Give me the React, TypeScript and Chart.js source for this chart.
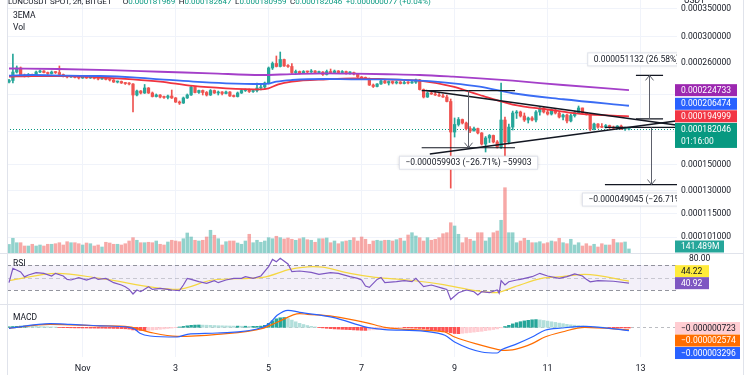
import React, { useEffect, useRef } from "react";
import { Chart, registerables } from "chart.js";

Chart.register(...registerables);

/* ===================== DATA (prices in 1e-6 USDT, volume in millions) ===================== */
const symbolText = "LUNCUSDT SPOT, 2h, BITGET";
const countdown = "01:16:00";
// x axis = 2h candle index; index 19 = Nov 1 00:00
const dayTicks = [19, 43, 67, 91, 115, 139, 163];
const dayLabels = ["Nov", "3", "5", "7", "9", "11", "13"];
const priceTicks = [101, 115, 130, 150, 180, 220, 260, 300, 350];
const unlabeledPriceTicks = [180, 220];
const rsiTicks = [80];
const rsiLevels = [70, 50, 30];

const firstOpen = 234.9;
const closes = [
  236.9, 248.0, 253.5, 244.0, 242.7, 244.7, 243.4, 248.0, 249.4, 247.3,
  246.0, 248.0, 247.3, 244.7, 242.1, 241.4, 242.7, 240.8, 240.1, 241.4,
  240.1, 242.1, 239.5, 238.8, 240.8, 238.2, 237.5, 234.9, 235.6, 233.7,
  233.0, 232.4, 218.9, 223.7, 221.3, 227.4, 221.3, 217.1, 218.9, 216.5,
  216.0, 217.7, 215.4, 210.7, 209.6, 215.4, 218.9, 228.6, 221.9, 224.3,
  221.9, 218.9, 224.3, 221.3, 222.5, 220.7, 222.5, 217.7, 217.1, 221.3,
  224.3, 225.5, 223.1, 224.3, 227.4, 228.6, 233.7, 253.5, 259.8, 255.6,
  265.5, 256.3, 255.6, 247.3, 248.7, 246.7, 248.7, 248.0, 249.4, 247.3,
  248.0, 244.7, 248.7, 247.3, 249.4, 247.3, 248.7, 246.7, 247.3, 245.3,
  241.4, 240.1, 239.5, 231.1, 229.3, 232.4, 236.2, 233.7, 235.6, 233.7,
  234.9, 233.0, 234.3, 233.7, 234.6, 237.5, 225.5, 216.5, 221.3, 220.1,
  218.9, 217.7, 216.5, 211.3, 179.0, 186.5, 191.6, 188.0, 182.4, 180.0,
  182.4, 178.1, 167.7, 173.3, 175.7, 169.6, 165.0, 191.1, 169.6, 183.9,
  198.5, 199.6, 195.3, 191.1, 193.2, 191.1, 199.6, 204.0, 199.6, 197.4,
  201.7, 198.5, 194.2, 196.3, 190.1, 195.8, 199.0, 204.0, 198.5, 197.4,
  181.9, 187.0, 183.9, 183.6, 185.4, 183.4, 182.9, 184.9, 181.9, 181.969,
  182.046,
];
const highs = [
  238.2, 273.5, 256.3, 254.9, 245.3, 246.0, 245.3, 249.4, 250.7, 250.0,
  248.0, 249.4, 248.7, 256.3, 245.3, 242.7, 243.4, 243.4, 241.4, 242.7,
  242.1, 242.7, 242.7, 240.1, 241.4, 241.4, 238.8, 238.2, 236.2, 236.2,
  234.3, 234.3, 233.0, 224.9, 224.3, 231.8, 228.0, 222.5, 220.1, 219.5,
  217.7, 218.9, 224.9, 216.0, 211.9, 216.5, 220.1, 229.9, 229.3, 224.9,
  224.9, 223.1, 225.5, 224.9, 223.7, 223.1, 223.7, 223.1, 218.9, 222.5,
  225.5, 226.2, 226.2, 225.5, 233.7, 231.1, 234.9, 254.9, 261.9, 270.6,
  276.5, 266.2, 258.4, 259.8, 250.7, 249.4, 250.0, 249.4, 251.4, 250.0,
  249.4, 248.7, 250.7, 252.1, 250.7, 250.0, 250.0, 249.4, 248.7, 248.0,
  246.0, 242.1, 241.4, 240.1, 232.4, 233.0, 237.5, 237.5, 236.2, 236.2,
  236.2, 235.6, 236.2, 235.6, 235.8, 238.8, 238.2, 226.2, 222.5, 222.5,
  222.5, 221.3, 220.1, 218.9, 214.2, 193.2, 193.7, 192.1, 189.0, 184.4,
  183.9, 182.9, 178.5, 174.7, 176.6, 176.1, 170.9, 233.7, 194.2, 187.0,
  200.6, 201.2, 200.6, 198.5, 194.2, 194.7, 201.2, 205.1, 204.6, 201.7,
  202.9, 202.3, 199.6, 197.4, 197.4, 197.4, 200.6, 206.2, 204.0, 199.0,
  197.4, 188.0, 187.5, 187.5, 186.5, 185.9, 184.9, 185.4, 185.9, 183.9,
  182.647,
];
const lows = [
  233.7, 233.7, 246.7, 242.7, 241.4, 241.4, 242.1, 242.7, 247.3, 246.7,
  244.7, 245.3, 246.0, 244.0, 241.4, 240.1, 240.8, 240.1, 238.8, 239.5,
  239.5, 239.5, 238.8, 237.5, 238.2, 237.5, 236.2, 234.3, 233.7, 233.0,
  231.8, 231.1, 199.6, 217.7, 220.1, 220.7, 220.7, 216.5, 216.5, 215.4,
  214.8, 214.2, 214.8, 210.2, 207.9, 209.0, 214.8, 218.3, 221.3, 220.7,
  218.9, 217.7, 218.3, 220.7, 218.9, 218.9, 220.1, 217.1, 216.5, 216.5,
  220.7, 223.1, 221.9, 221.9, 222.5, 224.9, 226.8, 232.4, 251.4, 254.9,
  254.9, 255.6, 254.2, 246.0, 246.0, 245.3, 246.0, 246.7, 247.3, 246.0,
  246.0, 243.4, 244.0, 246.0, 246.7, 246.0, 246.7, 245.3, 245.3, 244.0,
  240.8, 238.8, 238.2, 230.5, 228.0, 228.6, 231.8, 233.0, 231.1, 232.4,
  232.4, 232.4, 232.4, 232.4, 233.0, 233.0, 224.9, 215.4, 216.0, 219.5,
  218.3, 217.1, 216.0, 210.7, 132.0, 174.2, 184.9, 187.0, 181.0, 178.5,
  180.0, 177.1, 166.8, 160.6, 169.1, 168.7, 164.1, 163.7, 156.3, 167.7,
  181.0, 192.7, 194.2, 189.6, 188.0, 190.1, 189.0, 196.3, 198.5, 196.3,
  196.3, 197.4, 193.2, 191.1, 188.0, 189.0, 194.2, 197.9, 197.4, 196.3,
  180.5, 181.0, 182.9, 183.2, 182.9, 182.4, 181.5, 181.9, 181.5, 180.5,
  180.959,
];
const volumes = [
  300, 515, 360, 360, 245, 245, 305, 245, 280, 245,
  305, 305, 325, 360, 280, 395, 360, 360, 325, 280,
  350, 325, 245, 280, 210, 375, 350, 305, 305, 280,
  325, 420, 535, 445, 360, 360, 375, 360, 420, 305,
  280, 385, 445, 420, 395, 500, 700, 560, 445, 420,
  445, 560, 795, 620, 500, 280, 395, 420, 420, 350,
  305, 420, 655, 360, 445, 375, 420, 535, 500, 585,
  535, 490, 525, 480, 445, 500, 535, 465, 445, 375,
  500, 500, 525, 360, 420, 325, 395, 420, 445, 535,
  420, 560, 480, 305, 420, 445, 420, 445, 445, 420,
  465, 515, 420, 630, 710, 595, 535, 420, 535, 445,
  480, 535, 675, 710, 1060, 945, 655, 360, 535, 480,
  420, 710, 710, 420, 535, 710, 770, 1145, 2285, 710,
  710, 360, 420, 515, 445, 360, 360, 395, 325, 360,
  420, 395, 515, 360, 325, 480, 280, 360, 245, 325,
  245, 305, 210, 325, 280, 280, 480, 360, 360, 385,
  141.489,
];
// 3 EMAs: [candle index, value]
const emaLong = [
  [0, 252.8], [12.6, 252.1], [26, 250.7], [39, 248.4], [52, 246.3], [65, 244.0], [73, 245.3],
  [82, 246.3], [89, 245.8], [97.5, 245.0], [106, 244.0], [114.6, 241.8], [121.5, 239.7],
  [130, 236.6], [143, 231.1], [160, 224.733],
];
const emaMid = [
  [0, 243.1], [6, 244.0], [15, 243.1], [23.5, 242.7], [32, 241.0], [39, 238.4], [47.5, 235.4],
  [56, 233.3], [65, 232.4], [67.4, 233.3], [69, 235.4], [73, 237.5], [82, 238.8], [89, 238.4],
  [97.5, 238.4], [106, 236.6], [114.6, 233.3], [121.5, 229.0], [130, 221.0], [143, 213.9],
  [160, 206.474],
];
const emaShort = [
  [0, 241.8], [6, 242.7], [15, 242.7], [23.5, 241.0], [32, 238.4], [39, 235.4], [47.5, 229.9],
  [56, 227.0], [65, 225.7], [67, 227.0], [69.5, 232.0], [73, 235.4], [82, 238.4], [89, 239.7],
  [97.5, 238.4], [106, 236.6], [114.6, 229.0], [119, 222.5], [121.5, 218.9], [123.5, 216.0],
  [130, 207.8], [139, 202.3], [147.5, 197.5], [160, 194.999],
];
const rsiLine = [
  [0, 41.7], [1, 64.7], [3, 59], [4, 51], [5, 54], [7, 57.7], [9, 56.7], [11, 52.4], [12, 56.7],
  [14, 52.4], [15, 47], [16, 46], [18, 49.7], [20, 46], [22, 50.3], [23, 47], [25, 48.6],
  [27, 41.7], [29, 38], [30, 35.3], [31, 31], [32, 23.6], [33, 30], [34, 27.3], [36, 35.3],
  [37, 31], [39, 32.7], [41, 31], [42, 30], [44, 29], [45, 38], [46, 48.6], [47, 47], [49, 43.3],
  [51, 40.7], [53, 44.9], [54, 41.7], [56, 46], [58, 48.6], [60, 48.6], [61, 51.3], [63, 48.6],
  [65, 52.4], [67, 67.3], [68, 79], [69, 75.3], [70, 80.7], [72, 71.6], [73, 59.3], [75, 60.4],
  [78, 58.3], [80, 55], [83, 57.7], [85, 56.7], [88, 51.3], [90, 48.6], [91, 46], [92, 36.4],
  [93, 34.3], [95, 47], [96, 50], [97, 41.7], [100, 43.3], [102, 45], [104, 43.3], [105, 48.7],
  [107, 35.3], [109, 38], [112, 32.7], [113, 31], [114, 15], [116, 25.7], [118, 30], [120, 27.3],
  [121, 22], [122, 27.3], [124, 25.7], [126, 30], [126.5, 24.7], [127, 45], [128, 38], [129, 43.3],
  [131, 46], [132, 47], [135, 51.3], [137, 56.7], [139, 52.4], [142, 48.6], [144, 51.3],
  [146, 55.6], [148, 52.4], [149, 47], [150, 43], [152, 45], [156, 44], [160, 40.92],
];
const rsiMa = [
  [0, 45], [12.4, 56.7], [23.5, 48.6], [43.4, 31], [52.6, 46], [65.5, 50.3], [72.5, 63],
  [78.5, 67.3], [81, 66.5], [88, 56.7], [94.5, 50.3], [103, 46], [111.7, 39], [120.3, 29],
  [125.4, 25.7], [130.6, 35.3], [137.5, 48.6], [142.7, 51.3], [148.6, 55], [160, 44.22],
];
// MACD in 1e-6 USDT
const macdLine = [
  [0, -1], [10.6, 3.7], [15.7, 3], [23.5, 1.5], [31, 0], [32.5, -2], [33.8, -6], [36.4, -8.7],
  [43.4, -9.7], [46, -7], [53.7, -5.7], [65.5, 0], [67.4, 4.5], [69.2, 12], [72, 17], [75, 15],
  [83.6, 10], [92.4, 0], [94.5, -1.3], [97, -2.3], [107.4, -4], [112.5, -8], [115, -14.7],
  [122, -24.7], [126, -25.7], [127.2, -22.3], [130.6, -17.3], [135, -9.7], [138.3, -3],
  [142.7, -0.7], [148.6, 1], [160, -3.296],
];
const signalLine = [
  [0, -1], [10.6, 3], [23.5, 1.5], [31, 0.5], [36.4, -5], [43.4, -9], [53.7, -7], [65.5, -1],
  [69.2, 5], [75, 13.7], [77, 13], [83.6, 11], [92.4, 4.5], [97, 0], [107.4, -3], [112.5, -4.7],
  [115, -9.7], [122, -18], [126, -22], [127.2, -23], [130.6, -22], [135, -16.3], [138.3, -9.7],
  [142.7, -4.7], [148.6, 0], [160, -2.574],
];
const macdHist = [
  0.5, 0.8, 1.0, 1.2, 1.3, 1.2, 1.1, 1.0, 0.8, 0.7,
  0.5, 0.4, 0.3, -0.2, -0.3, -0.4, -0.5, -0.6, -0.6, -0.7,
  -0.7, -0.8, -0.8, -0.9, -0.9, -1.0, -1.0, -1.1, -1.2, -1.3,
  -1.5, -1.8, -2.6, -3.0, -3.2, -3.3, -3.1, -2.8, -2.4, -2.0,
  -1.6, -1.2, -0.8, -0.3, 0.3, 0.9, 1.5, 2.0, 2.2, 2.3,
  2.2, 2.1, 2.0, 1.8, 1.6, 1.5, 1.4, 1.3, 1.2, 1.2,
  1.1, 1.1, 1.0, 1.0, 1.0, 1.2, 2.0, 4.0, 6.5, 8.5,
  9.5, 9.8, 8.8, 7.2, 5.5, 4.0, 2.8, 1.8, 1.0, 0.4,
  -0.2, -0.6, -1.0, -1.3, -1.6, -1.8, -2.0, -2.2, -2.4, -2.6,
  -2.8, -3.0, -3.1, -2.8, -2.5, -2.2, -1.8, -1.4, -1.0, -0.7,
  -0.5, -0.4, -0.5, -0.6, -0.8, -1.0, -1.2, -1.6, -2.0, -2.6,
  -3.2, -3.8, -4.3, -4.8, -5.5, -6.2, -6.4, -6.0, -5.6, -5.2,
  -4.8, -4.4, -4.0, -3.4, -2.8, -2.2, -1.6, -0.5, 0.8, 2.0,
  3.4, 4.6, 5.6, 6.4, 7.0, 7.5, 7.7, 7.4, 6.8, 6.2,
  5.5, 4.9, 4.2, 3.6, 3.0, 2.5, 2.1, 1.7, 1.4, 1.1,
  0.8, 0.6, 0.4, 0.2, 0.0, -0.2, -0.4, -0.5, -0.6, -0.7,
  -0.723,
];
// drawings (candle index, price)
const triangleUpper = [[107.6, 224.27], [172.1, 185.9]];
const triangleLower = [[108.6, 158.9], [172.1, 190.1]];
const measures = [
  { x1: 106.5, x2: 130.6, xv: 118.5, from: 224.27, to: 164.367 },
  { x1: 161.8, x2: 168.8, xv: 165.3, from: 192.37, to: 243.502 },
  { x1: 153.8, x2: 173.0, xv: 165.8, from: 183.62, to: 134.575 },
];

/* ===================== STYLE ===================== */
const FONT = "Roboto, 'Noto Sans', sans-serif";
const TEXT = "#131722";
const GRID = "#f0f3fa";
const SEP = "#e0e3eb";
const UP = "#26a69a";
const DOWN = "#ef5350";
const GREEN = "#089981";
const PURPLE = "#9c27b0";
const BLUE = "#2962ff";
const RED = "#f23645";
const ORANGE = "#ff6d00";
const RSI_COL = "#7e57c2";
const RSI_MA_COL = "#f5d742";

const PLOT_LEFT = 7;
const AXIS_W = 73;
const X_MIN = -0.52;
const X_MAX = 172.4;
const PRICE_MIN = 92.77;
const PRICE_MAX = 366.8;
const VOL_MAX = 8855;
const RSI_MIN = 7.6;
const RSI_MAX = 89.2;
const MACD_MIN = -29.7;
const MACD_MAX = 23.3;
const TAG_X = 675;

const font = (size: number, weight = "normal") => `${weight} ${size}px ${FONT}`;
const fmtPrice = (v: number) => (v * 1e-6).toFixed(9);
const pts = (arr: number[][]) => arr.map(([x, y]) => ({ x, y }));
const last = (arr: any[]) => arr[arr.length - 1];

function noPad(s: any) {
  s.paddingTop = 0;
  s.paddingBottom = 0;
  s.paddingLeft = 0;
  s.paddingRight = 0;
}

function placeTags(tags: any[], gap: number, anchor: any) {
  const sorted = [...tags].sort((a, b) => a.y - b.y);
  const k = sorted.indexOf(anchor);
  for (let i = k - 1; i >= 0; i--) sorted[i].y = Math.min(sorted[i].y, sorted[i + 1].y - gap);
  for (let i = k + 1; i < sorted.length; i++) sorted[i].y = Math.max(sorted[i].y, sorted[i - 1].y + gap);
}

function drawTag(ctx: any, y: number, w: number, bg: string, fg: string, text: string, sub?: string) {
  const h = 12;
  ctx.fillStyle = bg;
  ctx.fillRect(TAG_X, y - h / 2, w, sub ? h + 13 : h);
  ctx.fillStyle = fg;
  ctx.font = font(8.5);
  ctx.textAlign = "left";
  ctx.textBaseline = "middle";
  ctx.fillText(text, TAG_X + 6, y + 0.5);
  if (sub) ctx.fillText(sub, TAG_X + 6, y + 13);
}

function xAxis(showLabels: boolean): any {
  return {
    type: "linear",
    min: X_MIN,
    max: X_MAX,
    bounds: "data",
    offset: false,
    grid: { color: GRID, offset: false, drawTicks: false },
    border: { display: false },
    ticks: showLabels
      ? {
          display: true,
          color: TEXT,
          font: { family: FONT, size: 9 },
          padding: 6,
          maxRotation: 0,
          autoSkip: false,
          callback: (v: number) => {
            const k = dayTicks.indexOf(v);
            return k >= 0 ? dayLabels[k] : "";
          },
        }
      : { display: false },
    afterBuildTicks: (s: any) => {
      s.ticks = dayTicks.map((v) => ({ value: v }));
    },
    afterFit: (s: any) => {
      s.height = showLabels ? 18 : 0;
      noPad(s);
    },
  };
}

const framePlugin = (sepTop: boolean) => ({
  id: "frame",
  afterDraw(chart: any) {
    const { ctx, height } = chart;
    ctx.save();
    ctx.strokeStyle = SEP;
    ctx.lineWidth = 1;
    ctx.setLineDash([]);
    ctx.beginPath();
    ctx.moveTo(PLOT_LEFT + 0.5, 0);
    ctx.lineTo(PLOT_LEFT + 0.5, height);
    ctx.moveTo(743.5, 0);
    ctx.lineTo(743.5, height);
    if (sepTop) {
      ctx.moveTo(0, 0.5);
      ctx.lineTo(743.5, 0.5);
    }
    ctx.stroke();
    ctx.restore();
  },
});

const baseOptions = {
  animation: false,
  responsive: false,
  devicePixelRatio: 1,
  events: [],
  layout: { padding: { left: PLOT_LEFT, right: 0, top: 0, bottom: 0 }, autoPadding: false },
  plugins: { legend: { display: false }, tooltip: { enabled: false } },
};

/* ===================== PRICE PANE ===================== */
function priceConfig(): any {
  const opens = closes.map((c, i) => (i === 0 ? firstOpen : closes[i - 1]));
  const candleCol = closes.map((c, i) => (c >= opens[i] ? UP : DOWN));
  const volCol = closes.map((c, i) => (c >= opens[i] ? "rgba(38,166,154,0.5)" : "rgba(239,83,80,0.5)"));

  const plugin = {
    id: "priceExtras",
    beforeDatasetsDraw(chart: any) {
      const { ctx, chartArea: a, scales } = chart;
      const y = Math.round(scales.y.getPixelForValue(last(closes))) + 0.5;
      ctx.save();
      ctx.strokeStyle = GREEN;
      ctx.lineWidth = 1;
      ctx.setLineDash([1, 2]);
      ctx.beginPath();
      ctx.moveTo(a.left, y);
      ctx.lineTo(a.right, y);
      ctx.stroke();
      ctx.restore();
    },
    afterDatasetsDraw(chart: any) {
      const { ctx, chartArea: a } = chart;
      const xS = chart.scales.x;
      const yS = chart.scales.y;
      const px = (i: number) => xS.getPixelForValue(i);
      const py = (p: number) => yS.getPixelForValue(p);
      ctx.save();
      ctx.beginPath();
      ctx.rect(a.left, a.top, a.right - a.left, a.bottom - a.top);
      ctx.clip();
      ctx.strokeStyle = TEXT;
      ctx.lineWidth = 1.6;
      for (const seg of [triangleUpper, triangleLower]) {
        ctx.beginPath();
        ctx.moveTo(px(seg[0][0]), py(seg[0][1]));
        ctx.lineTo(px(seg[1][0]), py(seg[1][1]));
        ctx.stroke();
      }
      for (const m of measures) {
        const yF = py(m.from);
        const yT = py(m.to);
        const xv = Math.round(px(m.xv)) + 0.5;
        ctx.strokeStyle = TEXT;
        ctx.lineWidth = 1.2;
        ctx.beginPath();
        ctx.moveTo(px(m.x1), yF);
        ctx.lineTo(px(m.x2), yF);
        ctx.moveTo(px(m.x1), yT);
        ctx.lineTo(px(m.x2), yT);
        ctx.stroke();
        ctx.strokeStyle = "#5d606b";
        ctx.lineWidth = 1;
        const d = yT > yF ? -1 : 1;
        ctx.beginPath();
        ctx.moveTo(xv, yF);
        ctx.lineTo(xv, yT);
        ctx.moveTo(xv - 4, yT + d * 5);
        ctx.lineTo(xv, yT);
        ctx.lineTo(xv + 4, yT + d * 5);
        ctx.stroke();
        const diff = m.to - m.from;
        const s = diff < 0 ? "\u2212" : "";
        const text = `${s}${fmtPrice(Math.abs(diff))} (${s}${Math.abs((diff / m.from) * 100).toFixed(2)}%) ${s}${Math.round(Math.abs(diff) * 1000)}`;
        ctx.font = font(8.5);
        const w = ctx.measureText(text).width + 12;
        const h = 13;
        const cy = diff < 0 ? yT + 15 : yT - 16;
        ctx.save();
        ctx.shadowColor = "rgba(0,0,0,0.18)";
        ctx.shadowBlur = 3;
        ctx.fillStyle = "#ffffff";
        ctx.fillRect(xv - w / 2, cy - h / 2, w, h);
        ctx.restore();
        ctx.strokeStyle = SEP;
        ctx.lineWidth = 1;
        ctx.strokeRect(xv - w / 2, cy - h / 2, w, h);
        ctx.fillStyle = TEXT;
        ctx.textAlign = "center";
        ctx.textBaseline = "middle";
        ctx.fillText(text, xv, cy + 0.5);
      }
      ctx.restore();
    },
    afterDraw(chart: any) {
      const { ctx, chartArea: a } = chart;
      const yS = chart.scales.y;
      ctx.save();
      // header
      const o = closes[closes.length - 2];
      const c = last(closes);
      const chg = c - o;
      const sg = chg >= 0 ? "+" : "\u2212";
      const segs: any[] = [
        [symbolText, TEXT, 11],
        ["O", TEXT, 0], [fmtPrice(o), GREEN, 3.5],
        ["H", TEXT, 0], [fmtPrice(last(highs)), GREEN, 3.5],
        ["L", TEXT, 0], [fmtPrice(last(lows)), GREEN, 3.5],
        ["C", TEXT, 0], [fmtPrice(c), GREEN, 3.5],
        [`${sg}${fmtPrice(Math.abs(chg))} (${sg}${((Math.abs(chg) / o) * 100).toFixed(2)}%)`, GREEN, 0],
      ];
      ctx.font = font(8);
      ctx.textAlign = "left";
      ctx.textBaseline = "alphabetic";
      let xx = 8;
      for (const [t, col, gap] of segs) {
        ctx.fillStyle = col;
        ctx.fillText(t, xx, 4);
        xx += ctx.measureText(t).width + gap;
      }
      ctx.font = font(8.5);
      ctx.fillStyle = TEXT;
      ctx.fillText("3EMA", 13, 18);
      ctx.fillText("Vol", 13, 30);
      ctx.fillText("USDT", 684, 3);
      // price tags
      const tags: any[] = [
        { v: last(emaLong)[1], bg: PURPLE },
        { v: last(emaMid)[1], bg: BLUE },
        { v: last(emaShort)[1], bg: RED },
        { v: last(closes), bg: GREEN, sub: countdown },
      ].map((t) => ({ ...t, y: yS.getPixelForValue(t.v) }));
      placeTags(tags, 12.5, tags[3]);
      for (const t of tags) drawTag(ctx, t.y, 62, t.bg, "#ffffff", fmtPrice(t.v), t.sub);
      const vy = Math.min(chart.scales.yVol.getPixelForValue(last(volumes)), a.bottom - 6.5);
      drawTag(ctx, vy, 49, UP, "#ffffff", `${last(volumes).toFixed(3)}M`);
      ctx.restore();
    },
  };

  return {
    type: "bar",
    data: {
      datasets: [
        { type: "line", data: pts(emaLong), borderColor: "#a43fc9", borderWidth: 1.8, pointRadius: 0, cubicInterpolationMode: "monotone", order: 1 },
        { type: "line", data: pts(emaMid), borderColor: "#3a6cf4", borderWidth: 1.8, pointRadius: 0, cubicInterpolationMode: "monotone", order: 1 },
        { type: "line", data: pts(emaShort), borderColor: "#f0333f", borderWidth: 1.8, pointRadius: 0, cubicInterpolationMode: "monotone", order: 1 },
        { type: "bar", data: closes.map((c, i) => ({ x: i, y: [opens[i], c] })), backgroundColor: candleCol, barThickness: 2.6, minBarLength: 1, borderWidth: 0, stack: "k", order: 2 },
        { type: "bar", data: closes.map((c, i) => ({ x: i, y: [lows[i], highs[i]] })), backgroundColor: candleCol, barThickness: 1, minBarLength: 1, borderWidth: 0, stack: "k", order: 3 },
        { type: "bar", yAxisID: "yVol", data: volumes.map((v, i) => ({ x: i, y: v })), backgroundColor: volCol, barThickness: 2.8, borderWidth: 0, stack: "k", order: 5 },
      ],
    },
    options: {
      ...baseOptions,
      scales: {
        x: xAxis(false),
        y: {
          type: "logarithmic",
          position: "right",
          min: PRICE_MIN,
          max: PRICE_MAX,
          bounds: "data",
          stacked: false,
          grid: { color: GRID, drawTicks: false },
          border: { display: false },
          ticks: {
            color: TEXT,
            font: { family: FONT, size: 8.5 },
            padding: 4,
            autoSkip: false,
            callback: (v: number) => (unlabeledPriceTicks.includes(v) ? "" : fmtPrice(v)),
          },
          afterBuildTicks: (s: any) => {
            s.ticks = priceTicks.map((v) => ({ value: v }));
          },
          afterFit: (s: any) => {
            s.width = AXIS_W;
            noPad(s);
          },
        },
        yVol: { type: "linear", display: false, min: 0, max: VOL_MAX, stacked: false },
      },
    },
    plugins: [plugin, framePlugin(false)],
  };
}

/* ===================== RSI PANE ===================== */
function rsiConfig(): any {
  const plugin = {
    id: "rsiExtras",
    beforeDatasetsDraw(chart: any) {
      const { ctx, chartArea: a } = chart;
      const y = chart.scales.y;
      const yTop = y.getPixelForValue(rsiLevels[0]);
      const yBot = y.getPixelForValue(rsiLevels[2]);
      ctx.save();
      ctx.fillStyle = "rgba(126,87,194,0.09)";
      ctx.fillRect(a.left, yTop, a.right - a.left, yBot - yTop);
      ctx.setLineDash([4, 3]);
      ctx.lineWidth = 1;
      rsiLevels.forEach((lv, k) => {
        const yy = Math.round(y.getPixelForValue(lv)) + 0.5;
        ctx.strokeStyle = k === 1 ? "rgba(120,123,134,0.35)" : "rgba(120,123,134,0.8)";
        ctx.beginPath();
        ctx.moveTo(a.left, yy);
        ctx.lineTo(a.right, yy);
        ctx.stroke();
      });
      ctx.restore();
    },
    afterDraw(chart: any) {
      const { ctx } = chart;
      const y = chart.scales.y;
      ctx.save();
      ctx.font = font(8.5);
      ctx.fillStyle = TEXT;
      ctx.textAlign = "left";
      ctx.textBaseline = "alphabetic";
      ctx.fillText("RSI", 13, 12.5);
      const tags: any[] = [
        { v: last(rsiMa)[1], bg: "#ffeb3b", fg: TEXT },
        { v: last(rsiLine)[1], bg: RSI_COL, fg: "#ffffff" },
      ].map((t) => ({ ...t, y: y.getPixelForValue(t.v) }));
      placeTags(tags, 12, tags[1]);
      for (const t of tags) drawTag(ctx, t.y, 34, t.bg, t.fg, t.v.toFixed(2));
      ctx.restore();
    },
  };
  return {
    type: "line",
    data: {
      datasets: [
        { data: pts(rsiMa), borderColor: RSI_MA_COL, borderWidth: 1.2, pointRadius: 0, cubicInterpolationMode: "monotone", order: 2 },
        { data: pts(rsiLine), borderColor: RSI_COL, borderWidth: 1.2, pointRadius: 0, tension: 0, order: 1 },
      ],
    },
    options: {
      ...baseOptions,
      scales: {
        x: xAxis(false),
        y: {
          type: "linear",
          position: "right",
          min: RSI_MIN,
          max: RSI_MAX,
          bounds: "data",
          grid: { display: false },
          border: { display: false },
          ticks: { color: TEXT, font: { family: FONT, size: 8.5 }, padding: 4, callback: (v: number) => v.toFixed(2) },
          afterBuildTicks: (s: any) => {
            s.ticks = rsiTicks.map((v) => ({ value: v }));
          },
          afterFit: (s: any) => {
            s.width = AXIS_W;
            noPad(s);
          },
        },
      },
    },
    plugins: [plugin, framePlugin(true)],
  };
}

/* ===================== MACD PANE ===================== */
function macdConfig(): any {
  const histCol = macdHist.map((h, i) => {
    const p = i === 0 ? 0 : macdHist[i - 1];
    if (h >= 0) return h >= p ? "#26a69a" : "#b2dfdb";
    return h <= p ? "#ff5252" : "#ffcdd2";
  });
  const plugin = {
    id: "macdExtras",
    beforeDatasetsDraw(chart: any) {
      const { ctx, chartArea: a } = chart;
      const y0 = Math.round(chart.scales.y.getPixelForValue(0)) + 0.5;
      ctx.save();
      ctx.strokeStyle = "rgba(120,123,134,0.5)";
      ctx.setLineDash([3, 3]);
      ctx.lineWidth = 1;
      ctx.beginPath();
      ctx.moveTo(a.left, y0);
      ctx.lineTo(a.right, y0);
      ctx.stroke();
      ctx.restore();
    },
    afterDraw(chart: any) {
      const { ctx } = chart;
      const y = chart.scales.y;
      ctx.save();
      ctx.font = font(8.5);
      ctx.fillStyle = TEXT;
      ctx.textAlign = "left";
      ctx.textBaseline = "alphabetic";
      ctx.fillText("MACD", 13, 15.5);
      const tags: any[] = [
        { v: last(macdHist), bg: "#ffcdd2", fg: TEXT },
        { v: last(signalLine)[1], bg: ORANGE, fg: "#ffffff" },
        { v: last(macdLine)[1], bg: BLUE, fg: "#ffffff" },
      ].map((t) => ({ ...t, y: y.getPixelForValue(t.v) }));
      placeTags(tags, 12.5, tags[0]);
      for (const t of tags) drawTag(ctx, t.y, 65, t.bg, t.fg, fmtPrice(t.v).replace("-", "\u2212"));
      ctx.restore();
    },
  };
  return {
    type: "bar",
    data: {
      datasets: [
        { type: "line", data: pts(macdLine), borderColor: BLUE, borderWidth: 1.2, pointRadius: 0, cubicInterpolationMode: "monotone", order: 1 },
        { type: "line", data: pts(signalLine), borderColor: ORANGE, borderWidth: 1.2, pointRadius: 0, cubicInterpolationMode: "monotone", order: 1 },
        { type: "bar", data: macdHist.map((v, i) => ({ x: i, y: v })), backgroundColor: histCol, barThickness: 2.8, borderWidth: 0, order: 2 },
      ],
    },
    options: {
      ...baseOptions,
      scales: {
        x: xAxis(true),
        y: {
          type: "linear",
          position: "right",
          min: MACD_MIN,
          max: MACD_MAX,
          bounds: "data",
          grid: { display: false },
          border: { display: false },
          ticks: { display: false },
          afterFit: (s: any) => {
            s.width = AXIS_W;
            noPad(s);
          },
        },
      },
    },
    plugins: [plugin, framePlugin(true)],
  };
}

/* ===================== COMPONENT ===================== */
export default function App() {
  const priceRef = useRef<HTMLCanvasElement | null>(null);
  const rsiRef = useRef<HTMLCanvasElement | null>(null);
  const macdRef = useRef<HTMLCanvasElement | null>(null);

  useEffect(() => {
    const charts = [
      new Chart(priceRef.current as any, priceConfig()),
      new Chart(rsiRef.current as any, rsiConfig()),
      new Chart(macdRef.current as any, macdConfig()),
    ];
    return () => charts.forEach((c) => c.destroy());
  }, []);

  const cv = (top: number, h: number): any => ({ position: "absolute", left: 0, top, width: 750, height: h, display: "block" });

  return (
    <div style={{ position: "absolute", left: 0, top: 0, width: 750, height: 375, background: "#ffffff", overflow: "hidden" }}>
      <canvas ref={priceRef} width={750} height={253} style={cv(0, 253)} />
      <canvas ref={rsiRef} width={750} height={51} style={cv(253, 51)} />
      <canvas ref={macdRef} width={750} height={71} style={cv(304, 71)} />
    </div>
  );
}
